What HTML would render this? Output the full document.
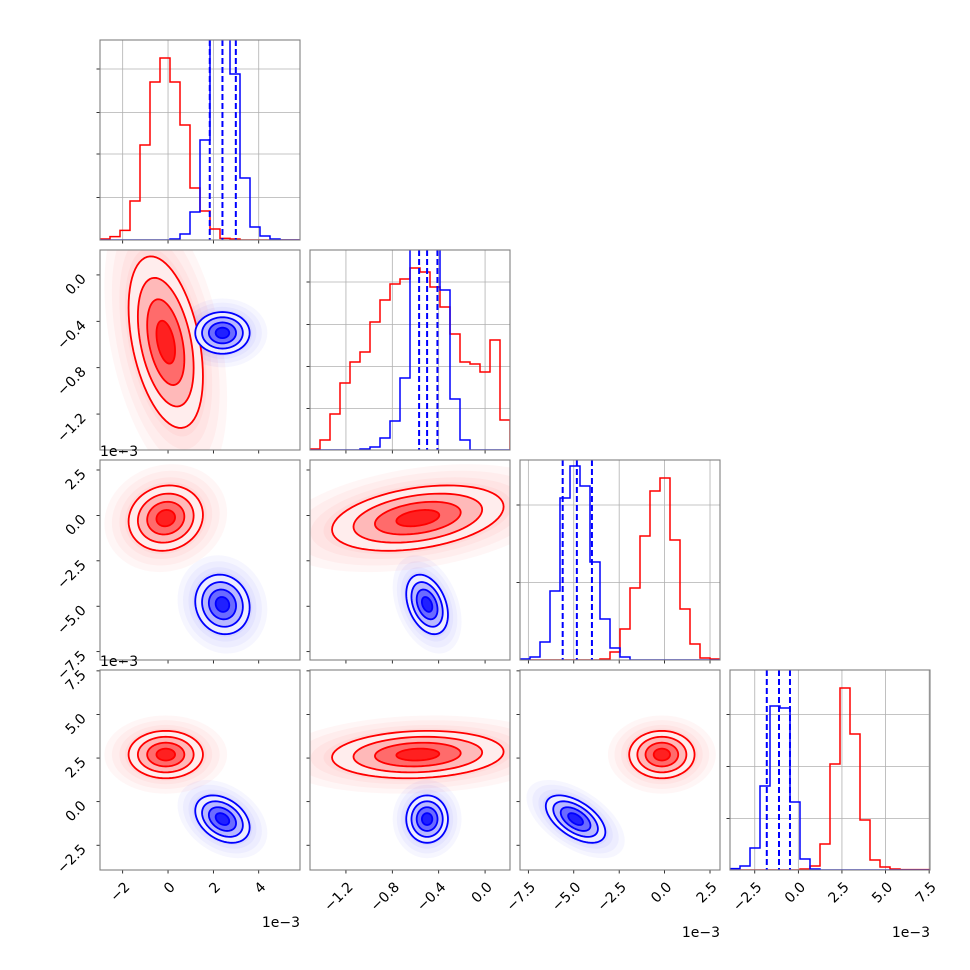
<!DOCTYPE html>
<html><head><meta charset="utf-8"><style>
html,body{margin:0;padding:0;background:#fff;}
svg{display:block;font-family:"DejaVu Sans","Liberation Sans",sans-serif;}
</style></head><body>
<svg id="fig" width="970" height="970" viewBox="0 0 970 970" xmlns="http://www.w3.org/2000/svg"></svg>
<script>
// ---- data ----
const axMin = [-3.0, -1.51, -7.96, -3.92];
const axMax = [5.82, 0.215, 3.05, 7.55];
const tickVals0 = [-2, 0, 2, 4];
const tickLabels0 = ["−2", "0", "2", "4"];
const tickVals1 = [-1.2, -0.8, -0.4, 0.0];
const tickLabels1 = ["−1.2", "−0.8", "−0.4", "0.0"];
const tickVals2 = [-7.5, -5.0, -2.5, 0.0, 2.5];
const tickLabels2 = ["−7.5", "−5.0", "−2.5", "0.0", "2.5"];
const tickVals3 = [-2.5, 0.0, 2.5, 5.0, 7.5];
const tickLabels3 = ["−2.5", "0.0", "2.5", "5.0", "7.5"];
const tickVals = [tickVals0, tickVals1, tickVals2, tickVals3];
const tickLabels = [tickLabels0, tickLabels1, tickLabels2, tickLabels3];

const redHist0 = [0.5,1.7,4.8,19.5,47.5,79,91,79,57.5,26,14.5,5.5,0.8,0.5,0,0,0,0,0,0];
const blueHist0 = [0,0,0,0,0,0,0,0.5,3,14,50,118,125,83,31,6.5,2,0.5,0,0];
const redHist1 = [0.5,5,18,33.5,44,49,64,75,83,85.5,91,89,81.5,71.5,58,44,43,39,55,15];
const blueHist1 = [0,0,0,0,0,0.5,1.5,6,14.5,36,120,130,115,80,25.5,5,0,0,0,0];
const redHist2 = [0,0,0,0,0,0,0,0,0.5,4,15.5,36,62,84.5,91,60,25.5,8,1,0.5];
const blueHist2 = [0.5,1.5,9,34.5,81,97,87,49,20.5,6,1.5,0,0,0,0,0,0,0,0,0];
const redHist3 = [0,0,0,0,0,0,0,0.5,2,13,53,91,68,25,5,1.5,0.5,0.2,0.2,0.2];
const blueHist3 = [0.7,2,11,42,82,81,34,5.5,0.5,0,0,0,0,0,0,0,0,0,0,0];
const redHists = [redHist0, redHist1, redHist2, redHist3];
const blueHists = [blueHist0, blueHist1, blueHist2, blueHist3];
const histTicks0 = [21.3, 43, 63.8, 85.5];
const histTicks1 = [20.8, 41.8, 62.8, 84];
const histTicks2 = [38.8, 77.5];
const histTicks3 = [25.8, 51.8, 77.8];
const histTicks = [histTicks0, histTicks1, histTicks2, histTicks3];
const histMax = 100;
const blueQ0 = [1.84, 2.40, 2.99];
const blueQ1 = [-0.569, -0.50, -0.411];
const blueQ2 = [-5.61, -4.83, -4.00];
const blueQ3 = [-1.81, -1.11, -0.48];
const blueQs = [blueQ0, blueQ1, blueQ2, blueQ3];

const redMean = [-0.1, -0.58, -0.15, 2.7];
const redSd = [0.82, 0.37, 0.9, 0.68];
const blueMean = [2.4, -0.5, -4.9, -1.0];
const blueSd = [0.6, 0.09, 0.82, 0.68];
const pairRow = [1, 2, 2, 3, 3, 3];
const pairCol = [0, 0, 1, 0, 1, 2];
const redRho = [-0.4, 0.1, 0.35, 0.0, 0.12, 0.0];
const blueRho = [0.0, -0.1, -0.35, -0.35, 0.0, -0.55];
const contourLevels = [0.5, 1.0, 1.5, 2.0];

// ---- layout ----
const PL = [100, 310, 520, 730], PT = [40, 250, 460, 670], PS = 200;
const NS = "http://www.w3.org/2000/svg";
const svg = document.getElementById("fig");
function mk(tag, attrs, parent) {
  const e = document.createElementNS(NS, tag);
  for (const k in attrs) e.setAttribute(k, attrs[k]);
  (parent || svg).appendChild(e);
  return e;
}
function xOf(col, v) { return PL[col] + (v - axMin[col]) / (axMax[col] - axMin[col]) * PS; }
function yOf(row, v) { return PT[row] + PS - (v - axMin[row]) / (axMax[row] - axMin[row]) * PS; }
function yHist(row, c) { return PT[row] + PS - c / histMax * PS; }

const defs = mk("defs", {});
function clipFor(r, c) {
  const id = "clip" + r + "_" + c;
  const cp = mk("clipPath", {id: id}, defs);
  mk("rect", {x: PL[c], y: PT[r], width: PS, height: PS}, cp);
  return "url(#" + id + ")";
}

function ellipsePath(row, col, mx, my, sx, sy, rho, s) {
  let d = "";
  const q = Math.sqrt(1 - rho * rho);
  for (let i = 0; i <= 72; i++) {
    const t = i / 72 * 2 * Math.PI;
    const u = s * Math.cos(t), w = s * Math.sin(t);
    const x = xOf(col, mx + sx * u);
    const y = yOf(row, my + sy * (rho * u + q * w));
    d += (i ? "L" : "M") + x.toFixed(2) + "," + y.toFixed(2);
  }
  return d + "Z";
}

function ticksAndLabels(r, c, isDiag) {
  const g = mk("g", {});
  
  
  tickVals[c].forEach((v, i) => {
    const x = xOf(c, v);
    if (x < PL[c] - 0.5 || x > PL[c] + PS + 0.5) return;
    mk("line", {x1: x, x2: x, y1: PT[r] + PS, y2: PT[r] + PS + 3.5, stroke: "#000", "stroke-width": 0.8}, g);
    if (r === 3) {
      const t = mk("text", {x: x + 5, y: 885, "font-size": 14, "text-anchor": "end", "dominant-baseline": "central", transform: "rotate(-45 " + (x + 5) + " 885)", fill: "#000"}, g);
      t.textContent = tickLabels[c][i];
      
      
    }
  });
  if (isDiag) {
    histTicks[r].forEach(v => {
      const y = yHist(r, v);
      mk("line", {x1: PL[c] - 3.5, x2: PL[c], y1: y, y2: y, stroke: "#000", "stroke-width": 0.8}, g);
    });
  } else {
    tickVals[r].forEach((v, i) => {
      const y = yOf(r, v);
      if (y < PT[r] - 0.5 || y > PT[r] + PS + 0.5) return;
      mk("line", {x1: PL[c] - 3.5, x2: PL[c], y1: y, y2: y, stroke: "#000", "stroke-width": 0.8}, g);
      if (c === 0) {
        const t = mk("text", {x: 84, y: y + 2, "font-size": 14, "text-anchor": "end", "dominant-baseline": "central", transform: "rotate(-45 84 " + (y + 2) + ")", fill: "#000"}, g);
        t.textContent = tickLabels[r][i];
        
        
      }
    });
  }
}

function frame(r, c, name) {
  const f = mk("rect", {x: PL[c], y: PT[r], width: PS, height: PS, fill: "none", stroke: "#808080", "stroke-width": 1.1});
  
  
}

// ---- diagonal histograms ----
for (let k = 0; k < 4; k++) {
  const g = mk("g", {"clip-path": clipFor(k, k)});
  
  
  tickVals[k].forEach(v => {
    const x = xOf(k, v);
    mk("line", {x1: x, x2: x, y1: PT[k], y2: PT[k] + PS, stroke: "#b0b0b0", "stroke-width": 0.8}, g);
  });
  histTicks[k].forEach(v => {
    const y = yHist(k, v);
    mk("line", {x1: PL[k], x2: PL[k] + PS, y1: y, y2: y, stroke: "#b0b0b0", "stroke-width": 0.8}, g);
  });
  [[redHists[k], "#ff0000", "red"], [blueHists[k], "#0000ff", "blue"]].forEach(([h, col, nm]) => {
    const bw = PS / h.length;
    let d = "M" + PL[k] + "," + (PT[k] + PS);
    h.forEach((c, i) => {
      const y = yHist(k, c);
      d += "L" + (PL[k] + i * bw) + "," + y + "L" + (PL[k] + (i + 1) * bw) + "," + y;
    });
    d += "L" + (PL[k] + PS) + "," + (PT[k] + PS);
    const p = mk("path", {d: d, fill: "none", stroke: col, "stroke-width": 1.5, "stroke-linejoin": "miter"}, g);
    
    
  });
  blueQs[k].forEach(q => {
    const x = xOf(k, q);
    const l = mk("line", {x1: x, x2: x, y1: PT[k], y2: PT[k] + PS, stroke: "#0000ff", "stroke-width": 2, "stroke-dasharray": "6,3"}, g);
    
    
  });
  ticksAndLabels(k, k, true);
  frame(k, k, 'histogram-' + k);
}

// ---- 2D panels ----
const redFills = ["rgba(255,0,0,0.07)", "rgba(255,0,0,0.22)", "rgba(255,0,0,0.42)", "rgba(255,0,0,0.7)"];
const blueFills = ["rgba(0,0,255,0.07)", "rgba(0,0,255,0.22)", "rgba(0,0,255,0.42)", "rgba(0,0,255,0.7)"];
for (let p = 0; p < pairRow.length; p++) {
  const r = pairRow[p], c = pairCol[p];
  const g = mk("g", {"clip-path": clipFor(r, c)});
  
  
  const series = [
    [redMean, redSd, redRho[p], "255,0,0", redFills, "#ff0000", "red"],
    [blueMean, blueSd, blueRho[p], "0,0,255", blueFills, "#0000ff", "blue"]
  ];
  series.forEach(([m, s, rho, rgb, fills, col, nm]) => {
    const cg = mk("g", {}, g);
    
    
    [3.3, 2.9, 2.5, 2.2].forEach(lev => {
      mk("path", {d: ellipsePath(r, c, m[c], m[r], s[c], s[r], rho, lev), fill: "rgba(" + rgb + ",0.035)"}, cg);
    });
  });
  series.forEach(([m, s, rho, rgb, fills, col, nm]) => {
    const cg = mk("g", {}, g);
    
    
    mk("path", {d: ellipsePath(r, c, m[c], m[r], s[c], s[r], rho, 2.0), fill: "#fff"}, cg);
    [2.0, 1.5, 1.0, 0.5].forEach((lev, i) => {
      mk("path", {d: ellipsePath(r, c, m[c], m[r], s[c], s[r], rho, lev), fill: fills[i]}, cg);
    });
    contourLevels.forEach(lev => {
      const e = mk("path", {d: ellipsePath(r, c, m[c], m[r], s[c], s[r], rho, lev), fill: "none", stroke: col, "stroke-width": 1.8}, cg);
      
      
    });
  });
  ticksAndLabels(r, c, false);
  frame(r, c, 'scatter-' + r + '-' + c);
}

// ---- offset labels ----
[[100, 456, "start"], [100, 666, "start"], [300, 927, "end"], [720, 937, "end"], [930, 937, "end"]].forEach(([x, y, a]) => {
  const t = mk("text", {x: x, y: y, "font-size": 14, "text-anchor": a, fill: "#000"});
  t.textContent = "1e−3";
  
  
});
</script>
</body></html>
